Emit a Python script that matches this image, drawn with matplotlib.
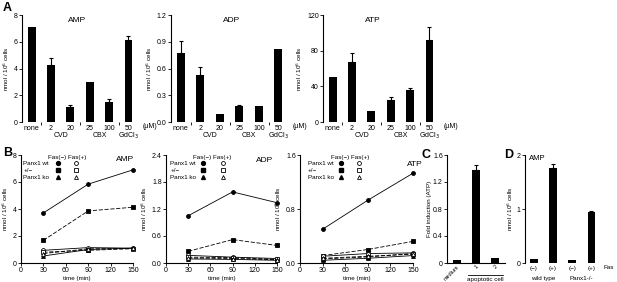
import matplotlib
matplotlib.use('Agg')
import matplotlib.pyplot as plt

plt.rcParams['font.family'] = ['Liberation Sans', 'DejaVu Sans']
plt.rcParams['font.size'] = 5

W, H = 617, 282

# ---- panel A: drug treatments ----
drug_labels = ['none', '2', '20', '25', '100', '50']
drug_groups = ['CVD', 'CBX', 'GdCl$_3$']
group_members = [[1, 2], [3, 4], [5]]

amp_a = [7.13, 4.28, 1.14, 2.97, 1.53, 6.14]
amp_a_err = [0, 0.5, 0.15, 0, 0.2, 0.3]
adp_a = [0.77, 0.53, 0.09, 0.18, 0.18, 0.82]
adp_a_err = [0.14, 0.09, 0, 0.01, 0, 0]
atp_a = [50, 67, 12, 25, 36, 92]
atp_a_err = [0, 10, 0, 3, 2, 15]

# ---- panel B: time course ----
times = [30, 90, 150]
amp_wt_plus = [3.71, 5.84, 6.9]
amp_het_plus = [1.68, 3.86, 4.13]
amp_wt_minus = [0.94, 1.14, 1.1]
amp_het_minus = [0.8, 0.94, 1.06]
amp_ko_minus = [0.52, 1.0, 1.1]
amp_ko_plus = [0.7, 1.05, 1.08]

adp_wt_plus = [1.05, 1.58, 1.34]
adp_het_plus = [0.26, 0.52, 0.39]
adp_wt_minus = [0.17, 0.13, 0.10]
adp_het_minus = [0.13, 0.12, 0.08]
adp_ko_minus = [0.09, 0.08, 0.06]
adp_ko_plus = [0.11, 0.10, 0.07]

atp_wt_plus = [0.5, 0.93, 1.33]
atp_het_plus = [0.11, 0.2, 0.32]
atp_wt_minus = [0.10, 0.14, 0.15]
atp_het_minus = [0.06, 0.09, 0.14]
atp_ko_minus = [0.04, 0.07, 0.11]
atp_ko_plus = [0.07, 0.10, 0.13]

legend_rows = ['Panx1 wt', '+/\u2212', 'Panx1 ko']
legend_markers = ['o', 's', '^']

# ---- panel C ----
c_labels = ['medium', '1', '2']
c_vals = [0.04, 1.38, 0.08]
c_err = [0, 0.07, 0]

# ---- panel D ----
d_labels = ['(\u2212)', '(+)', '(\u2212)', '(+)']
d_vals = [0.07, 1.76, 0.05, 0.94]
d_err = [0, 0.08, 0, 0.02]
d_groups = ['wild type', 'Panx1-/-']

fig = plt.figure(figsize=(W / 100, H / 100), dpi=100)


def add_ax(x0, y0, x1, y1):
    return fig.add_axes([x0 / W, 1 - y1 / H, (x1 - x0) / W, (y1 - y0) / H])


def style(ax):
    for s in ['top', 'right']:
        ax.spines[s].set_visible(False)
    ax.spines['left'].set_linewidth(0.8)
    ax.spines['bottom'].set_linewidth(0.8)
    ax.tick_params(length=2, width=0.6, labelsize=5, pad=1)


def bars(ax, vals, errs):
    x = list(range(len(vals)))
    ax.bar(x, vals, width=0.4, color='black')
    ex = [i for i in x if errs[i] > 0]
    ax.errorbar(ex, [vals[i] for i in ex], yerr=[[0] * len(ex), [errs[i] for i in ex]],
                fmt='none', ecolor='black', elinewidth=0.8, capsize=1.5, capthick=0.8)
    return x


def panel_a(box, vals, errs, ymax, yticks, title, tx):
    ax = add_ax(*box)
    style(ax)
    x = bars(ax, vals, errs)
    ax.set_ylim(0, ymax)
    ax.set_yticks(yticks)
    ax.set_xlim(-0.5, 5.6)
    ax.spines['bottom'].set_visible(False)
    ax.set_xticks(x)
    ax.set_xticklabels(drug_labels)
    ax.tick_params(axis='x', length=0, pad=2)
    ax.set_xticks([0.5, 2.5, 4.5], minor=True)
    ax.tick_params(axis='x', which='minor', length=2, width=0.6)
    ax.set_ylabel('nmol / 10$^6$ cells', fontsize=4.5, labelpad=2)
    ax.text(tx, 0.95, title, transform=ax.transAxes, fontsize=6, ha='center', va='center')
    ax.text(1.02, -0.04, '(\u00b5M)', transform=ax.transAxes, fontsize=5, ha='left', va='center')
    for name, members in zip(drug_groups, group_members):
        cx = sum(members) / len(members)
        ax.text(cx, -0.13, name, transform=ax.get_xaxis_transform(), fontsize=5,
                ha='center', va='center')
    return ax


panel_a((22, 15, 140, 122), amp_a, amp_a_err, 8, [0, 2, 4, 6, 8], 'AMP', 0.47)
panel_a((171, 15, 290, 122), adp_a, adp_a_err, 1.2, [0, 0.3, 0.6, 0.9, 1.2], 'ADP', 0.51)
panel_a((323, 15, 441, 122), atp_a, atp_a_err, 120, [0, 40, 80, 120], 'ATP', 0.42)


def panel_b(box, series, ymax, yticks, title, tpos, leg):
    ax = add_ax(*box)
    style(ax)
    styles = [('o', '-', 'black'), ('s', (0, (5, 2)), 'black'), ('o', '-', 'white'),
              ('s', (0, (5, 2)), 'white'), ('^', '-', 'black'), ('^', (0, (5, 2)), 'white')]
    for vals, (m, ls, fc) in zip(series, styles):
        ax.plot(times, vals, marker=m, ls=ls, color='black', lw=0.6, ms=2.8,
                mfc=fc, mec='black', mew=0.6, clip_on=False)
    ax.set_xlim(0, 150)
    ax.set_xticks([0, 30, 60, 90, 120, 150])
    ax.set_ylim(0, ymax)
    ax.set_yticks(yticks)
    ax.set_xlabel('time (min)', fontsize=4.5, labelpad=1)
    ax.set_ylabel('nmol / 10$^6$ cells', fontsize=4.5, labelpad=2)
    ax.text(tpos[0], tpos[1], title, transform=ax.transAxes, fontsize=6, ha='center', va='center')
    lx, fx, ox = leg
    ax.text((fx + ox) / 2, 0.98, 'Fas(\u2212) Fas(+)', transform=ax.transAxes, fontsize=4.5,
            ha='center', va='center')
    for i, (lab, m) in enumerate(zip(legend_rows, legend_markers)):
        yy = 0.925 - i * 0.065
        ax.text(lx, yy, lab, transform=ax.transAxes, fontsize=4.5, ha='left', va='center')
        ax.plot([fx], [yy], marker=m, color='black', ms=2.8, transform=ax.transAxes, clip_on=False)
        ax.plot([ox], [yy], marker=m, color='black', mfc='white', ms=2.8, mew=0.6,
                transform=ax.transAxes, clip_on=False)
    return ax


panel_b((21, 155, 133, 263),
        [amp_wt_plus, amp_het_plus, amp_wt_minus, amp_het_minus, amp_ko_minus, amp_ko_plus],
        8, [0, 2, 4, 6, 8], 'AMP', (0.93, 0.96), (0.02, 0.33, 0.49))
panel_b((166, 155, 277, 263),
        [adp_wt_plus, adp_het_plus, adp_wt_minus, adp_het_minus, adp_ko_minus, adp_ko_plus],
        2.4, [0, 0.6, 1.2, 1.8, 2.4], 'ADP', (0.89, 0.95), (0.04, 0.33, 0.51))
panel_b((300, 155, 413, 263),
        [atp_wt_plus, atp_het_plus, atp_wt_minus, atp_het_minus, atp_ko_minus, atp_ko_plus],
        1.6, [0, 0.8, 1.6], 'ATP', (1.02, 0.91), (0.07, 0.36, 0.52))

# ---- C ----
axc = add_ax(447, 155, 505, 263)
style(axc)
xc = bars(axc, c_vals, c_err)
axc.set_xlim(-0.5, 2.5)
axc.set_ylim(0, 1.6)
axc.set_yticks([0, 0.4, 0.8, 1.2, 1.6])
axc.set_yticklabels(['0', '0.4', '0.8', '1.2', '1.6'])
axc.set_xticks(xc)
axc.set_xticklabels(c_labels, rotation=45, ha='right', rotation_mode='anchor', fontsize=4)
axc.tick_params(axis='x', length=0, pad=1)
axc.set_ylabel('Fold induction (ATP)', fontsize=4.5, labelpad=1)
axc.plot([0.6, 2.4], [-0.11, -0.11], color='black', lw=0.6,
         transform=axc.get_xaxis_transform(), clip_on=False)
axc.text(1.5, -0.15, 'apoptotic cell', transform=axc.get_xaxis_transform(), fontsize=4.5,
         ha='center', va='center')

# ---- D ----
axd = add_ax(525, 155, 600, 263)
style(axd)
xd = bars(axd, d_vals, d_err)
axd.set_xlim(-0.45, 3.45)
axd.set_ylim(0, 2)
axd.set_yticks([0, 1, 2])
axd.spines['bottom'].set_visible(False)
axd.set_xticks(xd)
axd.set_xticklabels(d_labels, fontsize=4.5)
axd.tick_params(axis='x', length=0, pad=2)
axd.set_ylabel('nmol / 10$^6$ cells', fontsize=4.5, labelpad=1)
axd.text(0.05, 0.97, 'AMP', transform=axd.transAxes, fontsize=5.5, ha='left', va='center')
axd.text(1.05, -0.04, 'Fas', transform=axd.transAxes, fontsize=4.5, ha='left', va='center')
for k, name in enumerate(d_groups):
    axd.text(2 * k + 0.5, -0.14, name, transform=axd.get_xaxis_transform(), fontsize=4.5,
             ha='center', va='center')

# panel letters
for lab, (px, py) in zip('ABCD', [(3, 8), (3, 153), (421, 155), (504, 155)]):
    fig.text(px / W, 1 - py / H, lab, fontsize=9, fontweight='bold', ha='left', va='center')

fig.savefig('out.png', dpi=100)
